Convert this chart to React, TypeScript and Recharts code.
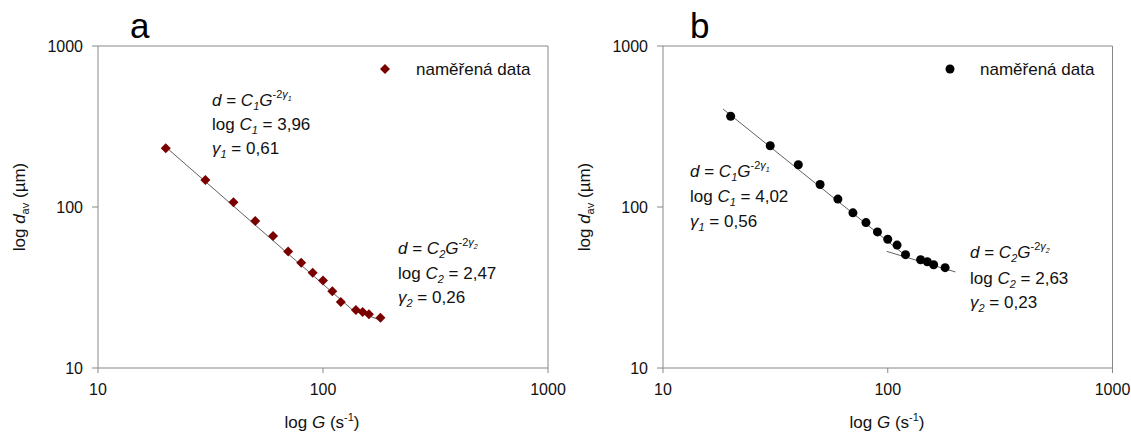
import React from 'react';
import { ScatterChart, Scatter, XAxis, YAxis, ReferenceLine } from 'recharts';

// shear rate G (s^-1), shared by both panels
const gValues = [20, 30, 40, 50, 60, 70, 80, 90, 100, 110, 120, 140, 150, 160, 180];
// mean floc size d_av (um)
const dA = [232, 147, 107, 82, 66, 53, 45, 39, 35, 30, 25.7, 22.9, 22.3, 21.6, 20.5];
const dB = [366, 240, 183, 138, 112, 92, 80, 70, 63, 58, 50.6, 47, 45.7, 43.8, 42];

// fitted power-law segments (end points)
const fitA1 = [{ x: 20, y: 236 }, { x: 134, y: 23.2 }];
const fitA2 = [{ x: 134, y: 23.2 }, { x: 180, y: 19.8 }];
const fitB1 = [{ x: 18.5, y: 406 }, { x: 122, y: 49 }];
const fitB2 = [{ x: 99, y: 53 }, { x: 200, y: 39.5 }];

const logTicks = [10, 100, 1000];

const toPoints = (ys: number[]) => gValues.map((g, i) => ({ x: g, y: ys[i] }));

const FONT = '"Liberation Sans", Arial, sans-serif';
const AXIS = '#888888';
const FIT = '#606060';

const Diamond = (p: any) => {
  const { cx, cy } = p;
  const r = 5;
  return <path d={`M${cx},${cy - r}L${cx + r},${cy}L${cx},${cy + r}L${cx - r},${cy}Z`} fill="#7a0000" />;
};

const Dot = (p: any) => <circle cx={p.cx} cy={p.cy} r={4.5} fill="#000" />;

const NoDot = () => <g />;

interface PanelProps {
  points: { x: number; y: number }[];
  fits: { x: number; y: number }[][];
  shape: any;
  width: number;
  left: number;
  ml: number;
  mr: number;
}

const Panel: React.FC<PanelProps> = ({ points, fits, shape, width, left, ml, mr }) => (
  <div style={{ position: 'absolute', left, top: 0 }}>
    <ScatterChart
      width={width}
      height={433}
      margin={{ top: 46, right: mr, bottom: 35, left: ml }}
      style={{ overflow: 'visible' }}
    >
      <XAxis
        type="number"
        dataKey="x"
        scale="log"
        domain={[10, 1000]}
        ticks={logTicks}
        interval={0}
        height={30}
        tickSize={5}
        tickMargin={11}
        stroke={AXIS}
        tick={{ fill: '#111', fontSize: 16, fontFamily: FONT }}
      />
      <YAxis
        type="number"
        dataKey="y"
        scale="log"
        domain={[10, 1000]}
        ticks={logTicks}
        interval={0}
        width={60}
        tickSize={6}
        tickMargin={9}
        stroke={AXIS}
        tick={{ fill: '#111', fontSize: 16, fontFamily: FONT }}
      />
      <ReferenceLine y={1000} stroke={AXIS} />
      <ReferenceLine x={1000} stroke={AXIS} />
      {fits.map((f, i) => (
        <Scatter
          key={i}
          data={f}
          line={{ stroke: FIT, strokeWidth: 1 }}
          shape={NoDot}
          legendType="none"
          isAnimationActive={false}
        />
      ))}
      <Scatter data={points} shape={shape} isAnimationActive={false} />
    </ScatterChart>
  </div>
);

const it = { fontStyle: 'italic' as const };

const Eq: React.FC<{ x: number; y: number[]; n: string; c: string; g: string }> = ({ x, y, n, c, g }) => (
  <g fontSize={17} fill="#111" fontFamily={FONT}>
    <text x={x} y={y[0]}>
      <tspan {...it}>d</tspan>
      {' = '}
      <tspan {...it}>C</tspan>
      <tspan {...it} fontSize={11} dy={4}>{n}</tspan>
      <tspan {...it} dy={-4}>G</tspan>
      <tspan fontSize={11} dy={-8}>-2</tspan>
      <tspan {...it} fontSize={11}>γ</tspan>
      <tspan {...it} fontSize={7} dy={3}>{n}</tspan>
    </text>
    <text x={x} y={y[1]}>
      {'log '}
      <tspan {...it}>C</tspan>
      <tspan {...it} fontSize={11} dy={4}>{n}</tspan>
      <tspan dy={-4}>{' = ' + c}</tspan>
    </text>
    <text x={x} y={y[2]}>
      <tspan {...it}>γ</tspan>
      <tspan {...it} fontSize={11} dy={4}>{n}</tspan>
      <tspan dy={-4}>{' = ' + g}</tspan>
    </text>
  </g>
);

const AxisTitles: React.FC<{ ox: number }> = ({ ox }) => (
  <g fontFamily={FONT} fill="#111" fontSize={17}>
    <text x={ox + 322} y={428} textAnchor="middle">
      {'log '}
      <tspan {...it}>G</tspan>
      {' (s'}
      <tspan fontSize={11} dy={-7}>-1</tspan>
      <tspan dy={7}>)</tspan>
    </text>
    <text transform={`translate(${ox + 25},207) rotate(-90)`} textAnchor="middle">
      {'log '}
      <tspan {...it}>d</tspan>
      <tspan fontSize={11} dy={4}>av</tspan>
      <tspan dy={-4}>{' (µm)'}</tspan>
    </text>
  </g>
);

export default function App() {
  const a = toPoints(dA);
  const b = toPoints(dB);
  return (
    <div style={{ position: 'absolute', left: 0, top: 0, width: 1131, height: 433, background: '#fff', fontFamily: FONT }}>
      <Panel points={a} fits={[fitA1, fitA2]} shape={Diamond} width={570} left={0} ml={38} mr={22} />
      <Panel points={b} fits={[fitB1, fitB2]} shape={Dot} width={561} left={570} ml={33} mr={18.5} />
      <svg width={1131} height={433} style={{ position: 'absolute', left: 0, top: 0, pointerEvents: 'none' }}>
        <text x={130} y={38} fontSize={35} fontFamily={FONT} fill="#000">a</text>
        <text x={690} y={38} fontSize={35} fontFamily={FONT} fill="#000">b</text>
        <AxisTitles ox={0} />
        <AxisTitles ox={565} />
        {/* legends */}
        <path d="M385,64L390,69L385,74L380,69Z" fill="#7a0000" />
        <text x={416} y={75} fontSize={17} fontFamily={FONT} fill="#111">naměřená data</text>
        <circle cx={950} cy={69} r={4.5} fill="#000" />
        <text x={980} y={75} fontSize={17} fontFamily={FONT} fill="#111">naměřená data</text>
        <Eq x={212} y={[106, 130, 154]} n="1" c="3,96" g="0,61" />
        <Eq x={398} y={[254, 279, 303]} n="2" c="2,47" g="0,26" />
        <Eq x={690} y={[177, 202, 227]} n="1" c="4,02" g="0,56" />
        <Eq x={970} y={[258, 284, 308]} n="2" c="2,63" g="0,23" />
      </svg>
    </div>
  );
}
